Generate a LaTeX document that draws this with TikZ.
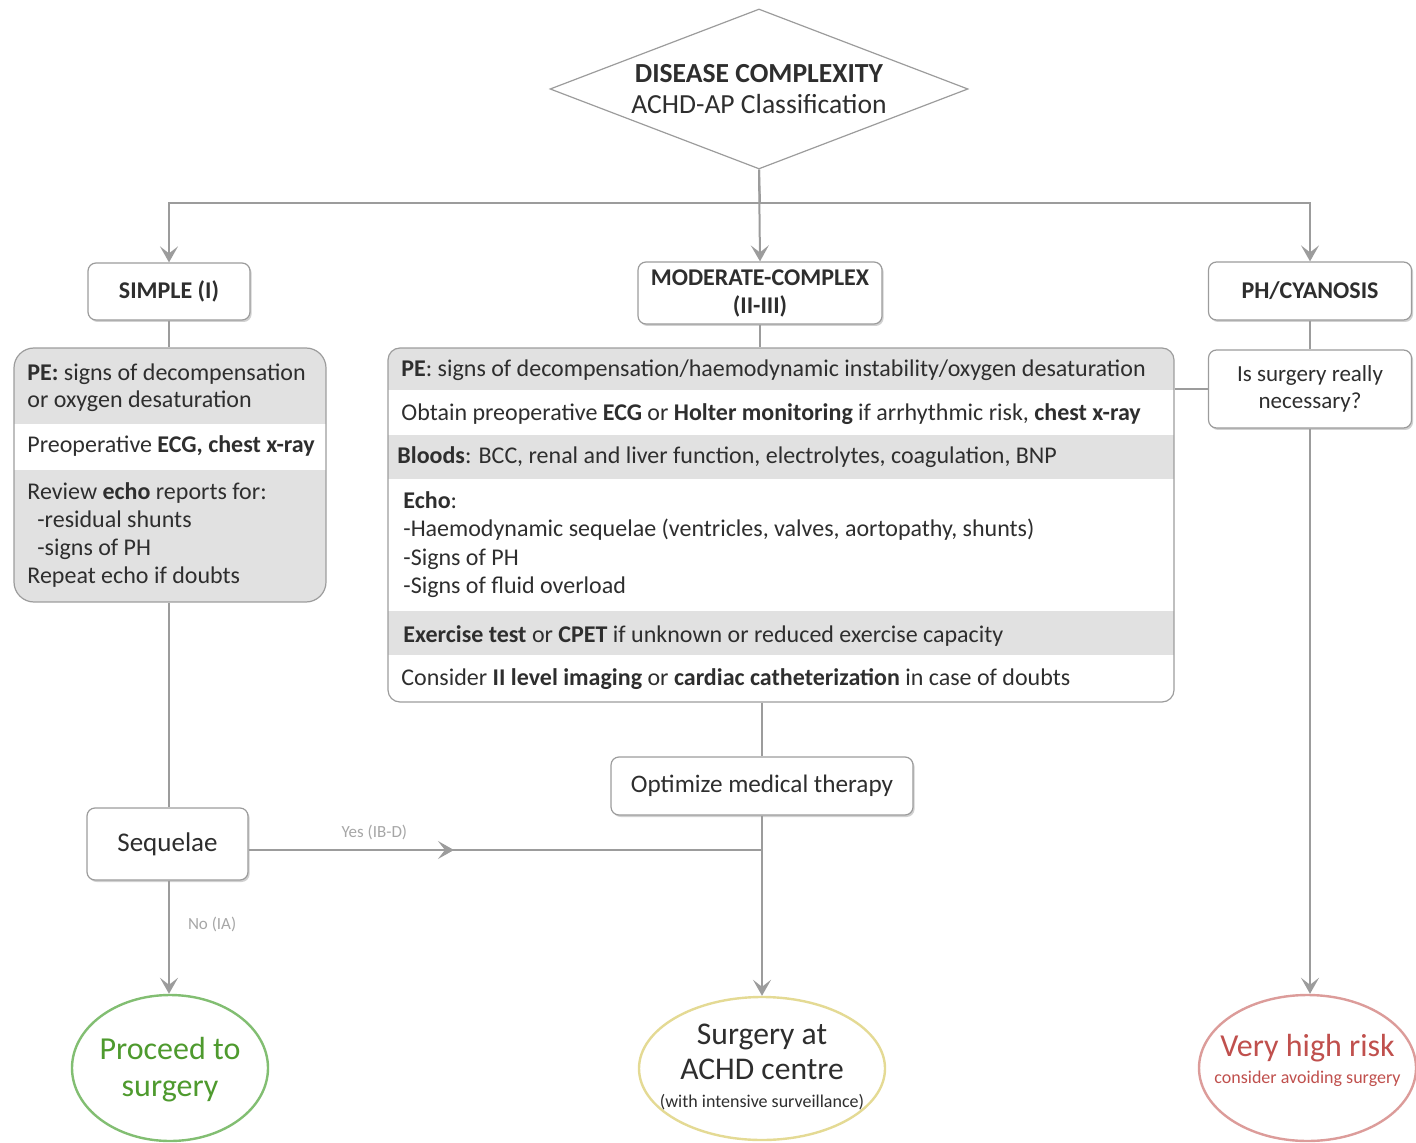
\documentclass[tikz,border=0pt]{standalone}
\usepackage{fontspec}
\setmainfont{Carlito}
\usetikzlibrary{positioning,arrows.meta,shapes.geometric,shadows}
\definecolor{linegray}{HTML}{9C9C9C}
\definecolor{rowgray}{HTML}{E1E1E1}
\definecolor{txt}{HTML}{2E2E2E}
\definecolor{okgreen}{HTML}{4E9A2E}
\definecolor{okring}{HTML}{82BE72}
\definecolor{midring}{HTML}{E4DA94}
\definecolor{riskred}{HTML}{C0504D}
\definecolor{riskring}{HTML}{DC9C9A}

\begin{document}
\begin{tikzpicture}[
  x=0.5pt, y=-0.5pt, text=txt,
  shade/.style = {drop shadow={shadow xshift=0.8pt, shadow yshift=-1pt, opacity=0.18, fill=black}},
  head/.style  = {rectangle, rounded corners=4pt, draw=linegray, line width=0.6pt, fill=white,
                  align=center, inner sep=0pt, font=\bfseries\fontsize{12}{14}\selectfont, shade},
  plain/.style = {rectangle, rounded corners=4pt, draw=linegray, line width=0.6pt, fill=white,
                  align=center, inner sep=0pt, shade},
  dec/.style   = {diamond, aspect=2.61, draw=linegray, line width=0.6pt, fill=white, align=center,
                  inner sep=0pt, minimum width=209pt, minimum height=80pt},
  goal/.style  = {ellipse, line width=1.2pt, fill=white, inner sep=0pt},
  goaltxt/.style = {align=center, inner sep=0pt},
  row/.style   = {anchor=west, inner sep=0pt, font=\fontsize{12}{14}\selectfont},
  lbl/.style   = {font=\fontsize{8.5}{10}\selectfont, text=linegray!90, inner sep=2pt},
  line/.style  = {draw=linegray, line width=1pt},
  conn/.style  = {line, -{Stealth[length=8pt, width=9pt, inset=3.5pt]}}
]
\useasboundingbox (0,0) rectangle (1416,1143);

% top decision and the three classes
\node[dec, font=\fontsize{13.8}{15.5}\selectfont] (dia) at (759,89) {\textbf{DISEASE COMPLEXITY}\\ACHD-AP Classification};
\coordinate (split) at (760,203);
\node[head, minimum width=81pt, minimum height=28.5pt]  (simple) at (169,291.5) {SIMPLE (I)};
\node[head, minimum width=122pt, minimum height=31pt]   (mod)    at (760,293)   {MODERATE-COMPLEX\\(II-III)};
\node[head, minimum width=101.5pt, minimum height=29pt] (ph)     at (1310,291)  {PH/CYANOSIS};

% simple work-up box
\begin{scope}
  \clip[rounded corners=10pt] (14,348) rectangle (326,602);
  \foreach \ya/\yb in {348/424, 470/602}
    \fill[rowgray] (14,\ya) rectangle (326,\yb);
\end{scope}
\node[draw=linegray, line width=0.6pt, rounded corners=10pt, minimum width=156pt, minimum height=127pt, inner sep=0pt] (simbox) at (170,475) {};
\node[row, align=left, font=\fontsize{12}{13.5}\selectfont] (sim1) at (27,388) {\textbf{PE:} signs of decompensation\\or oxygen desaturation};
\node[row] (sim2) at (27,446) {Preoperative \textbf{ECG, chest x-ray}};
\node[row, anchor=north west, align=left] (sim3) at (27,482) {Review \textbf{echo} reports for:\\\hspace*{5pt}-residual shunts\\\hspace*{5pt}-signs of PH\\Repeat echo if doubts};

% moderate-complex work-up box
\begin{scope}
  \clip[rounded corners=6pt] (388,348) rectangle (1174,702);
  \foreach \ya/\yb in {348/390, 435/479, 611/655}
    \fill[rowgray] (388,\ya) rectangle (1174,\yb);
\end{scope}
\node[draw=linegray, line width=0.6pt, rounded corners=6pt, minimum width=393pt, minimum height=177pt, inner sep=0pt] (modbox) at (781,525) {};
\node[row] (mod1) at (401,370) {\textbf{PE}: signs of decompensation/haemodynamic instability/oxygen desaturation};
\node[row] (mod2) at (401,414) {Obtain preoperative \textbf{ECG} or \textbf{Holter monitoring} if arrhythmic risk, \textbf{chest x-ray}};
\node[row] (mod3) at (397,457) {\textbf{Bloods}: BCC, renal and liver function, electrolytes, coagulation, BNP};
\node[row, anchor=north west, align=left, font=\fontsize{12}{14.25}\selectfont] (mod4) at (403,491) {\textbf{Echo}:\\-Haemodynamic sequelae (ventricles, valves, aortopathy, shunts)\\-Signs of PH\\-Signs of fluid overload};
\node[row] (mod5) at (403,636) {\textbf{Exercise test} or \textbf{CPET} if unknown or reduced exercise capacity};
\node[row] (mod6) at (401,679) {Consider \textbf{II level imaging} or \textbf{cardiac catheterization} in case of doubts};

% PH branch
\node[plain, minimum width=101.5pt, minimum height=39pt, font=\fontsize{11.5}{13.5}\selectfont] (ask) at (1310,389) {Is surgery really\\necessary?};

% lower steps
\node[plain, minimum width=151pt, minimum height=29pt, font=\fontsize{12.6}{14}\selectfont] (opt) at (762,786) {Optimize medical therapy};
\node[plain, minimum width=80.5pt, minimum height=36pt, font=\fontsize{13.5}{15}\selectfont] (seq) at (167.5,844) {Sequelae};

% outcomes
\node[goal, draw=okring,   minimum width=98pt,    minimum height=73pt]   (go)     at (170,1068)    {};
\node[goal, draw=midring,  minimum width=123pt,   minimum height=71.5pt] (centre) at (762,1068.5)  {};
\node[goal, draw=riskring, minimum width=108.5pt, minimum height=73pt]   (risk)   at (1307.5,1068) {};
\node[goaltxt, text=okgreen, font=\fontsize{16}{18.5}\selectfont] (gotxt) at ([yshift=-1pt]go.center) {Proceed to\\surgery};
\node[goaltxt, font=\fontsize{15.8}{17.5}\selectfont] (centretxt) at ([yshift=1pt]centre.center)
  {Surgery at\\ACHD centre\\[-3.5pt]{\fontsize{9}{10}\selectfont (with intensive surveillance)}};
\node[goaltxt, text=riskred, font=\fontsize{16}{18}\selectfont] (risktxt) at ([yshift=4pt]risk.center)
  {Very high risk\\[-4.5pt]{\fontsize{9}{10}\selectfont consider avoiding surgery}};

% connectors
\draw[line] (dia.south) -- (split);
\draw[conn] (split) -| (simple.north);
\draw[conn] (split) -| (ph.north);
\draw[conn] (dia.south) -- (mod.north);
\draw[line] (simple.south) -- (simple.south |- simbox.north);
\draw[line] (mod.south) -- (mod.south |- modbox.north);
\draw[line] (ph.south) -- (ask.north);
\draw[line] (modbox.east |- ask.west) -- (ask.west);
\draw[line] (simple.south |- simbox.south) -- (seq.north -| simple.south);
\draw[line] (opt.north |- modbox.south) -- (opt.north);
\draw[conn] (opt.south) -- (centre.north);
\draw[conn] (ask.south) -- (ask.south |- risk.north);
\coordinate (yesstart) at ([yshift=-3pt]seq.east);
\coordinate (join) at (yesstart -| opt.south);
\draw[line] (yesstart) -- (join);
\path (yesstart) -- (join) coordinate[pos=0.4] (yesmid) node[lbl, pos=0.245, above=3pt] {Yes (IB-D)};
\draw[conn] (yesstart) -- (yesmid);
\draw[conn] (seq.south -| simple.south) -- node[lbl, pos=0.39, right=7pt] {No (IA)} (go.north -| simple.south);
\end{tikzpicture}
\end{document}
